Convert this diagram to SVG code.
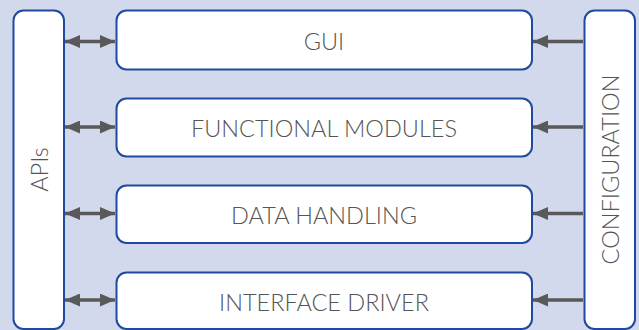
<svg xmlns="http://www.w3.org/2000/svg" width="639" height="330" viewBox="0 0 639 330">
<style>
.bg{fill:#d3d9ec}
.box{fill:#ffffff;stroke:#1e4aa0;stroke-width:2}
.lbl{font-family:Lato,"Open Sans","Liberation Sans",sans-serif;font-weight:300;font-size:23.5px;fill:#555555;text-anchor:middle;dominant-baseline:central}
.conn{stroke:#595959;stroke-width:3.5;fill:none}
</style>
<defs>
<marker id="ah" markerUnits="userSpaceOnUse" markerWidth="15" markerHeight="13" refX="15" refY="6.5" orient="auto-start-reverse">
<path d="M0,0 L15,6.5 L0,13 Z" fill="#595959"/>
</marker>
</defs>
<rect class="bg" x="0" y="0" width="639" height="330"/>
<g id="connectors">
<line class="conn" x1="65" y1="41.5" x2="115" y2="41.5" marker-start="url(#ah)" marker-end="url(#ah)"/>
<line class="conn" x1="65" y1="127" x2="115" y2="127" marker-start="url(#ah)" marker-end="url(#ah)"/>
<line class="conn" x1="65" y1="213.5" x2="115" y2="213.5" marker-start="url(#ah)" marker-end="url(#ah)"/>
<line class="conn" x1="65" y1="300" x2="115" y2="300" marker-start="url(#ah)" marker-end="url(#ah)"/>
<line class="conn" x1="583" y1="41.5" x2="533" y2="41.5" marker-end="url(#ah)"/>
<line class="conn" x1="583" y1="127" x2="533" y2="127" marker-end="url(#ah)"/>
<line class="conn" x1="583" y1="213.5" x2="533" y2="213.5" marker-end="url(#ah)"/>
<line class="conn" x1="583" y1="300" x2="533" y2="300" marker-end="url(#ah)"/>
</g>
<g id="apis">
<rect class="box" x="13.5" y="10.5" width="50.5" height="318.5" rx="10"/>
<text class="lbl" transform="translate(39,169.5) rotate(-90)">APIs</text>
</g>
<g id="configuration">
<rect class="box" x="584.5" y="10.5" width="50.5" height="318.5" rx="10"/>
<text class="lbl" transform="translate(610,169.5) rotate(-90)">CONFIGURATION</text>
</g>
<g id="gui">
<rect class="box" x="116.5" y="10.5" width="415.5" height="59" rx="10"/>
<text class="lbl" x="324" y="41">GUI</text>
</g>
<g id="functional-modules">
<rect class="box" x="116.5" y="98.5" width="415.5" height="58" rx="10"/>
<text class="lbl" x="324" y="127.5">FUNCTIONAL MODULES</text>
</g>
<g id="data-handling">
<rect class="box" x="116.5" y="185.5" width="415.5" height="57.5" rx="10"/>
<text class="lbl" x="324" y="214.5">DATA HANDLING</text>
</g>
<g id="interface-driver">
<rect class="box" x="116.5" y="272.5" width="415.5" height="56.5" rx="10"/>
<text class="lbl" x="324" y="301.5">INTERFACE DRIVER</text>
</g>
</svg>
